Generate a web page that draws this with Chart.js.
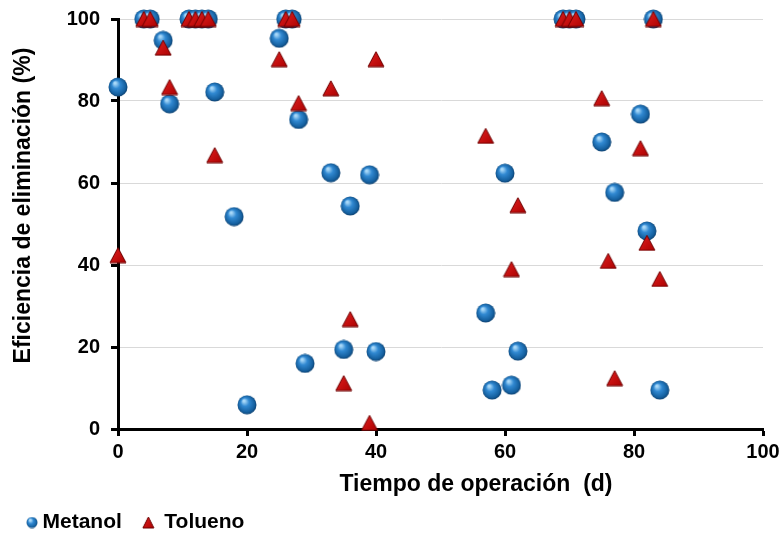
<!DOCTYPE html>
<html>
<head>
<meta charset="utf-8">
<script src="https://cdn.jsdelivr.net/npm/chart.js@4/dist/chart.umd.min.js"></script>
<style>
  body { margin: 0; background: #fff; }
  #wrap { width: 780px; height: 533px; }
</style>
</head>
<body>
<div id="wrap"><canvas id="myChart" width="780" height="533"></canvas></div>
<script>
// Data
var metanolX = [0, 4, 5, 7, 8, 11, 12, 13, 14, 15, 18, 20, 25, 26, 27, 28, 29, 33, 35, 36, 39, 40, 57, 58, 60, 61, 62, 69, 70, 71, 75, 77, 81, 82, 83, 84];
var metanolY = [83.4, 100, 100, 94.8, 79.3, 100, 100, 100, 100, 82.2, 51.8, 5.9, 95.3, 100, 100, 75.5, 16, 62.5, 19.4, 54.4, 62, 18.9, 28.3, 9.5, 62.4, 10.7, 19, 100, 100, 100, 70, 57.7, 76.8, 48.3, 100, 9.5];

var toluenoX = [0, 4, 5, 7, 8, 11, 12, 13, 14, 15, 25, 26, 27, 28, 33, 35, 36, 39, 40, 57, 61, 62, 69, 70, 71, 75, 76, 77, 81, 82, 83, 84];
var toluenoY = [42.4, 100, 100, 93, 83.4, 100, 100, 100, 100, 66.8, 90.2, 100, 100, 79.5, 83.1, 11.2, 26.8, 1.5, 90.2, 71.5, 39, 54.6, 100, 100, 100, 80.7, 41, 12.4, 68.5, 45.4, 100, 36.6];

var xTicks = [0, 20, 40, 60, 80, 100];
var yTicks = [0, 20, 40, 60, 80, 100];

var xTitle = 'Tiempo de operación  (d)';
var yTitle = 'Eficiencia de eliminación (%)';

function toPoints(xs, ys) {
  return xs.map(function(x, i) { return {x: x, y: ys[i]}; });
}

// 3D-looking markers, like the Excel sphere / pyramid.
// padLeft leaves empty room on the left (used to place the legend marker)
function makeSphere(d, padLeft) {
  padLeft = padLeft || 0;
  var c = document.createElement('canvas');
  c.width = d + padLeft; c.height = d;
  var g = c.getContext('2d');
  var r = d / 2, cx = padLeft + r;
  var grad = g.createRadialGradient(padLeft + r * 0.7, r * 0.6, 1, cx, r, r);
  grad.addColorStop(0, '#a8d8f8');
  grad.addColorStop(0.35, '#3189d2');
  grad.addColorStop(0.8, '#15609f');
  grad.addColorStop(1, '#0b3a66');
  g.fillStyle = grad;
  g.beginPath();
  g.arc(cx, r, r - 0.5, 0, Math.PI * 2);
  g.fill();
  return c;
}

function makeTriangle(w, h, padLeft) {
  padLeft = padLeft || 0;
  var c = document.createElement('canvas');
  c.width = w + padLeft; c.height = h;
  var g = c.getContext('2d');
  var grad = g.createLinearGradient(padLeft, 0, padLeft + w, h);
  grad.addColorStop(0, '#e52222');
  grad.addColorStop(1, '#a80000');
  g.fillStyle = grad;
  g.strokeStyle = '#6e0000';
  g.lineWidth = 1;
  g.beginPath();
  g.moveTo(padLeft + w / 2, 1);
  g.lineTo(padLeft + w - 1, h - 1);
  g.lineTo(padLeft + 1, h - 1);
  g.closePath();
  g.fill();
  g.stroke();
  return c;
}

var sphere = makeSphere(20);
var triangle = makeTriangle(18, 17);
var sphereLegend = makeSphere(12, 30);
var triangleLegend = makeTriangle(13, 13, 19);

var FONT = "'Liberation Sans', Arial, sans-serif";

// axis titles: the original has them a little off the plot centre
var titlesPlugin = {
  id: 'axisTitles',
  afterDraw: function(chart) {
    var ctx = chart.ctx, a = chart.chartArea;
    ctx.save();
    ctx.fillStyle = '#000';
    ctx.textAlign = 'center';
    ctx.textBaseline = 'middle';
    ctx.font = 'bold 23px ' + FONT;
    ctx.fillText(xTitle, a.left + (a.right - a.left) * 0.555, a.bottom + 56);
    ctx.translate(24, a.top + (a.bottom - a.top) * 0.455);
    ctx.rotate(-Math.PI / 2);
    ctx.fillText(yTitle, 0, 0);
    ctx.restore();
  }
};

var ctx = document.getElementById('myChart').getContext('2d');

var myChart = new Chart(ctx, {
  type: 'scatter',
  data: {
    datasets: [{
      label: 'Metanol',
      data: toPoints(metanolX, metanolY),
      pointStyle: sphere,
      order: 2,
      clip: false
    }, {
      label: 'Tolueno',
      data: toPoints(toluenoX, toluenoY),
      pointStyle: triangle,
      order: 1,
      clip: false
    }]
  },
  options: {
    responsive: false,
    animation: false,
    events: [],
    layout: { padding: { top: 19, right: 17, left: 0, bottom: -10 } },
    plugins: {
      tooltip: { enabled: false },
      legend: {
        position: 'bottom',
        align: 'start',
        labels: {
          usePointStyle: true,
          pointStyleWidth: 30,
          color: '#000',
          font: { family: FONT, size: 21, weight: 'bold' },
          padding: 2,
          sort: function(a, b) { return a.datasetIndex - b.datasetIndex; },
          generateLabels: function(chart) {
            var items = Chart.defaults.plugins.legend.labels.generateLabels(chart);
            items.forEach(function(it) {
              it.pointStyle = it.datasetIndex === 0 ? sphereLegend : triangleLegend;
            });
            return items;
          }
        }
      }
    },
    scales: {
      x: {
        type: 'linear',
        min: 0,
        max: 100,
        afterBuildTicks: function(scale) {
          scale.ticks = xTicks.map(function(v) { return {value: v}; });
        },
        grid: { drawOnChartArea: false, tickColor: '#000', tickLength: 7, tickWidth: 3 },
        border: { color: '#000', width: 3 },
        ticks: { color: '#000', font: { family: FONT, size: 20, weight: 'bold' }, padding: 4 },
        afterFit: function(scale) {
          scale.height = 81;
          scale.paddingLeft = 0;
          scale.paddingRight = 0;
        }
      },
      y: {
        type: 'linear',
        min: 0,
        max: 100,
        afterBuildTicks: function(scale) {
          scale.ticks = yTicks.map(function(v) { return {value: v}; });
        },
        grid: {
          color: function(c) { return c.tick && c.tick.value === 0 ? 'rgba(0,0,0,0)' : '#d9d9d9'; },
          tickColor: '#000',
          tickLength: 7,
          tickWidth: 3
        },
        border: { color: '#000', width: 3 },
        ticks: { color: '#000', font: { family: FONT, size: 20, weight: 'bold' }, padding: 11 },
        afterFit: function(scale) {
          scale.width = 118;
          scale.paddingTop = 0;
          scale.paddingBottom = 0;
        }
      }
    }
  },
  plugins: [titlesPlugin]
});
</script>
</body>
</html>
